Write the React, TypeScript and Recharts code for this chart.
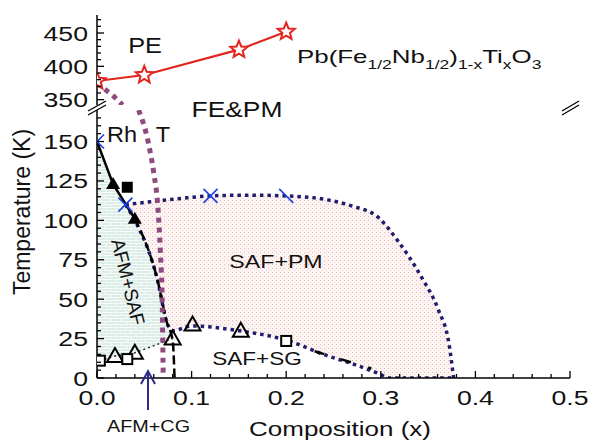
import React from 'react';
import { ComposedChart, Line, Area, Scatter, XAxis, YAxis } from 'recharts';

const FONT = '"Liberation Sans", Arial, Helvetica, sans-serif';

// upper panel (T >= 350 K): Curie line and start of the Rh/T boundary
const curieX = [0, 0.05, 0.15, 0.2];
const curieT = [378, 387, 425, 452];
const rhtUpX = [0, 0.005, 0.016, 0.027];
const rhtUpT = [375, 369, 357, 342];

// lower panel (0 - 170 K)
const rhtLowX = [0.044, 0.054, 0.06, 0.064, 0.067, 0.069, 0.07];
const rhtLowT = [170, 150, 130, 111, 80, 45, 0];

const afmX = [0, 0.017, 0.04];
const afmT = [150, 123, 101];
const afmDashX = [0.04, 0.064, 0.074, 0.08, 0.082];
const afmDashT = [101, 62, 35, 24, 0];

const safTopX = [0.03, 0.06, 0.09, 0.12, 0.16, 0.2, 0.244, 0.27, 0.297, 0.318, 0.343, 0.361, 0.372, 0.377];
const safTopT = [110, 112, 114, 115.5, 116, 115.5, 113, 109, 102, 87, 64, 43, 22, 0];
const safBotX = [0.03, 0.04, 0.064, 0.074, 0.08, 0.1, 0.15, 0.2, 0.244, 0.27, 0.297, 0.31, 0.377];
const safBotT = [110, 100, 62, 35, 30, 33, 30, 24, 14, 9, 3, 0, 0];

const pinkX = [0.03, 0.04, 0.064, 0.074, 0.08, 0.1, 0.12, 0.15, 0.2, 0.244, 0.27, 0.297, 0.31, 0.318, 0.343, 0.361, 0.372, 0.377];
const pinkHi = [110, 111, 112.5, 113, 113.5, 114.5, 115.5, 116, 115.5, 113, 109, 102, 95, 87, 64, 43, 22, 0];
const pinkLo = [110, 100, 62, 35, 30, 33, 33, 30, 24, 14, 9, 3, 0, 0, 0, 0, 0, 0];

const greenX = [0, 0.017, 0.03, 0.04, 0.064, 0.074, 0.08];
const greenHi = [150, 123, 112, 101, 62, 35, 25];
const greenLo = [11, 13, 14, 16, 21, 23, 25];

const cgX = [0.003, 0.019, 0.04, 0.08];
const cgT = [11, 14, 16, 25];
const sgDashX = [0.23, 0.29];
const sgDashT = [17, 6];

const openTriX = [0.019, 0.04, 0.08, 0.101, 0.152];
const openTriT = [14, 16, 25, 34, 30];
const openSqX = [0.003, 0.032, 0.2];
const openSqT = [11, 12, 23.5];
const fillTriX = [0.017, 0.04];
const fillTriT = [123, 101];
const fillSqX = [0.032];
const fillSqT = [121];
const crossX = [0, 0.03, 0.12];
const crossT = [150, 110, 115.5];
const slashX = [0.2];
const slashT = [115.5];

const xMajor = [0, 0.1, 0.2, 0.3, 0.4, 0.5];
const lowMajor = [0, 25, 50, 75, 100, 125, 150];
const upMajor = [350, 400, 450];

const pts = (xs: number[], ys: number[]) => xs.map((x, i) => ({ x, t: ys[i] }));
const rng = (xs: number[], lo: number[], hi: number[]) => xs.map((x, i) => ({ x, r: [lo[i], hi[i]] }));

const xTicks = Array.from({ length: 26 }, (_, i) => Math.round(i * 2) / 100);
const lowTicks = Array.from({ length: 34 }, (_, i) => i * 5);
const upTicks = Array.from({ length: 13 }, (_, i) => 350 + i * 10);

const RED = '#e1251f';
const NAVY = '#211d6b';
const MAUVE = '#8f4a7e';
const BLUE = '#1f3fe6';

const WText = ({ x, y, children, size = 20, sx = 1.3, anchor = 'middle', rotate = 0, fill = '#111' }: any) => (
  <text transform={`translate(${x},${y}) rotate(${rotate}) scale(${sx},1)`} fontSize={size} textAnchor={anchor} fill={fill} fontFamily={FONT}>
    {children}
  </text>
);

const isMajor = (v: number, majors: number[]) => majors.some((m) => Math.abs(m - v) < 1e-6);

const LeftTick = (majors: number[], labels: boolean) => (p: any) => {
  const v = p.payload.value;
  const major = isMajor(v, majors);
  return (
    <g>
      <line x1={p.x} x2={p.x + (major ? 7 : 4)} y1={p.y} y2={p.y} stroke="#000" strokeWidth={1.3} />
      {major && labels && <WText x={p.x - 9} y={p.y + 7.5} anchor="end" size={20.5}>{v}</WText>}
    </g>
  );
};

const RightTick = (majors: number[]) => (p: any) => {
  const major = isMajor(p.payload.value, majors);
  return <line x1={p.x} x2={p.x - (major ? 7 : 4)} y1={p.y} y2={p.y} stroke="#000" strokeWidth={1.3} />;
};

const BottomTick = (p: any) => {
  const v = p.payload.value;
  const major = isMajor(v, xMajor);
  return (
    <g>
      <line x1={p.x} x2={p.x} y1={p.y} y2={p.y - (major ? 7 : 4)} stroke="#000" strokeWidth={1.3} />
      {major && <WText x={p.x} y={p.y + 27} size={20.5}>{v.toFixed(1)}</WText>}
    </g>
  );
};

const TopTick = (p: any) => {
  const major = isMajor(p.payload.value, xMajor);
  return <line x1={p.x} x2={p.x} y1={p.y} y2={p.y + (major ? 7 : 4)} stroke="#000" strokeWidth={1.3} />;
};

const starPath = (cx: number, cy: number, R: number, r: number) => {
  let d = '';
  for (let i = 0; i < 10; i++) {
    const a = -Math.PI / 2 + (i * Math.PI) / 5;
    const rad = i % 2 === 0 ? R : r;
    d += (i === 0 ? 'M' : 'L') + (cx + rad * Math.cos(a)).toFixed(2) + ',' + (cy + rad * Math.sin(a)).toFixed(2);
  }
  return d + 'Z';
};

const StarDot = (p: any) => <path key={p.index} d={starPath(p.cx, p.cy, 9, 4)} fill="#fff" stroke={RED} strokeWidth={2} />;
const OpenTri = (p: any) => <path d={`M${p.cx},${p.cy - 8}L${p.cx + 8},${p.cy + 6}L${p.cx - 8},${p.cy + 6}Z`} fill="none" stroke="#000" strokeWidth={2} />;
const FillTri = (p: any) => <path d={`M${p.cx},${p.cy - 7}L${p.cx + 7},${p.cy + 5}L${p.cx - 7},${p.cy + 5}Z`} fill="#000" />;
const OpenSq = (p: any) => <rect x={p.cx - 5} y={p.cy - 5} width={10} height={10} fill="#fff" stroke="#000" strokeWidth={2} />;
const FillSq = (p: any) => <rect x={p.cx - 5.5} y={p.cy - 5.5} width={11} height={11} fill="#000" />;
const Cross = (p: any) => (
  <path d={`M${p.cx - 7},${p.cy - 7}L${p.cx + 7},${p.cy + 7}M${p.cx - 7},${p.cy + 7}L${p.cx + 7},${p.cy - 7}`} stroke={BLUE} strokeWidth={1.6} />
);
const Slash = (p: any) => <path d={`M${p.cx - 7},${p.cy - 7}L${p.cx + 7},${p.cy + 7}`} stroke={BLUE} strokeWidth={1.6} />;

const AXIS = { stroke: '#000', strokeWidth: 1.5 };

export default function App() {
  return (
    <div style={{ position: 'absolute', left: 0, top: 0, width: 589, height: 441, background: '#fff', fontFamily: FONT }}>
      <div style={{ position: 'absolute', left: 0, top: 0 }}>
        <ComposedChart width={589} height={125} margin={{ top: 15, right: 19, bottom: 20, left: 37 }}>
          <XAxis dataKey="x" type="number" domain={[0, 0.5]} hide allowDataOverflow />
          <XAxis xAxisId="top" orientation="top" dataKey="x" type="number" domain={[0, 0.5]} ticks={xTicks} interval={0}
            height={0} tickSize={0} tickMargin={0} tick={TopTick} axisLine={AXIS} />
          <YAxis type="number" domain={[342, 477]} ticks={upTicks} interval={0} width={60} tickSize={0} tickMargin={0}
            tick={LeftTick(upMajor, true)} axisLine={AXIS} allowDataOverflow />
          <YAxis yAxisId="r" orientation="right" type="number" domain={[342, 477]} ticks={upTicks} interval={0} width={0}
            tickSize={0} tickMargin={0} tick={RightTick(upMajor)} axisLine={AXIS} />
          <Line data={pts(rhtUpX, rhtUpT)} dataKey="t" type="monotone" stroke={MAUVE} strokeWidth={5} strokeDasharray="5 5"
            dot={false} activeDot={false} isAnimationActive={false} />
          <Line data={pts(curieX, curieT)} dataKey="t" type="linear" stroke={RED} strokeWidth={2.2}
            dot={StarDot} activeDot={false} isAnimationActive={false} />
        </ComposedChart>
      </div>
      <div style={{ position: 'absolute', left: 0, top: 0 }}>
        <ComposedChart width={589} height={441} margin={{ top: 110, right: 19, bottom: 0, left: 37 }}>
          <defs>
            <pattern id="pinkTex" width="4" height="4" patternUnits="userSpaceOnUse">
              <rect width="4" height="4" fill="#fdf5f3" />
              <rect x="0" y="0" width="1" height="1" fill="#efb5ad" />
              <rect x="2" y="2" width="1" height="1" fill="#f7d8d3" />
            </pattern>
            <pattern id="greenTex" width="10" height="6" patternUnits="userSpaceOnUse">
              <rect width="10" height="6" fill="#dcede8" />
              <path d="M0 0.5H10M0 3.5H10M1 0V3M6 3V6" stroke="#f6fbf9" strokeWidth="1" />
            </pattern>
          </defs>
          <XAxis dataKey="x" type="number" domain={[0, 0.5]} ticks={xTicks} interval={0} height={63} tickSize={0}
            tickMargin={0} tick={BottomTick} axisLine={AXIS} allowDataOverflow />
          <YAxis type="number" domain={[0, 170]} ticks={lowTicks} interval={0} width={60} tickSize={0} tickMargin={0}
            tick={LeftTick(lowMajor, true)} axisLine={AXIS} allowDataOverflow />
          <YAxis yAxisId="r" orientation="right" type="number" domain={[0, 170]} ticks={lowTicks} interval={0} width={0}
            tickSize={0} tickMargin={0} tick={RightTick(lowMajor)} axisLine={AXIS} />
          <Area data={rng(greenX, greenLo, greenHi)} dataKey="r" type="linear" stroke="none" fill="url(#greenTex)"
            fillOpacity={1} dot={false} activeDot={false} isAnimationActive={false} />
          <Area data={rng(pinkX, pinkLo, pinkHi)} dataKey="r" type="monotone" stroke="none" fill="url(#pinkTex)"
            fillOpacity={1} dot={false} activeDot={false} isAnimationActive={false} />
          <Line data={pts(cgX, cgT)} dataKey="t" type="linear" stroke="#222" strokeWidth={1.5} strokeDasharray="2 3"
            dot={false} activeDot={false} isAnimationActive={false} />
          <Line data={pts(safTopX, safTopT)} dataKey="t" type="monotone" stroke={NAVY} strokeWidth={3.5} strokeDasharray="3.5 4"
            dot={false} activeDot={false} isAnimationActive={false} />
          <Line data={pts(safBotX, safBotT)} dataKey="t" type="monotone" stroke={NAVY} strokeWidth={3.5} strokeDasharray="3.5 4"
            dot={false} activeDot={false} isAnimationActive={false} />
          <Line data={pts(afmX, afmT)} dataKey="t" type="linear" stroke="#000" strokeWidth={2.5}
            dot={false} activeDot={false} isAnimationActive={false} />
          <Line data={pts(afmDashX, afmDashT)} dataKey="t" type="monotone" stroke="#000" strokeWidth={2.5} strokeDasharray="9 4"
            dot={false} activeDot={false} isAnimationActive={false} />
          <Line data={pts(sgDashX, sgDashT)} dataKey="t" type="linear" stroke="#000" strokeWidth={2.5} strokeDasharray="10 18"
            dot={false} activeDot={false} isAnimationActive={false} />
          <Line data={pts(rhtLowX, rhtLowT)} dataKey="t" type="monotone" stroke={MAUVE} strokeWidth={5} strokeDasharray="5 5"
            dot={false} activeDot={false} isAnimationActive={false} />
          <Scatter data={pts(openTriX, openTriT)} dataKey="t" shape={OpenTri} isAnimationActive={false} />
          <Scatter data={pts(openSqX, openSqT)} dataKey="t" shape={OpenSq} isAnimationActive={false} />
          <Scatter data={pts(fillTriX, fillTriT)} dataKey="t" shape={FillTri} isAnimationActive={false} />
          <Scatter data={pts(fillSqX, fillSqT)} dataKey="t" shape={FillSq} isAnimationActive={false} />
          <Scatter data={pts(crossX, crossT)} dataKey="t" shape={Cross} isAnimationActive={false} />
          <Scatter data={pts(slashX, slashT)} dataKey="t" shape={Slash} isAnimationActive={false} />
        </ComposedChart>
      </div>
      <svg width={589} height={441} style={{ position: 'absolute', left: 0, top: 0, pointerEvents: 'none' }}>
        {/* axis breaks */}
        <path d="M88,111L106,101L106,105L88,115Z" fill="#fff" />
        <path d="M88,111L106,101M88,115L106,105" stroke="#000" strokeWidth={1.3} />
        <path d="M562,111L579,101L579,105L562,115Z" fill="#fff" />
        <path d="M562,111L579,101M562,115L579,105" stroke="#000" strokeWidth={1.3} />

        <text transform="translate(30,212) rotate(-90)" fontSize={23} textAnchor="middle" fontFamily={FONT} fill="#111">Temperature (K)</text>
        <WText x={340} y={436} size={20}>Composition (x)</WText>

        <WText x={145} y={53} size={22} sx={1.15}>PE</WText>
        <WText x={237} y={117} size={22} sx={1.2}>FE&amp;PM</WText>
        <WText x={122} y={142} size={22} sx={1.07}>Rh</WText>
        <WText x={163} y={142} size={22} sx={1.07}>T</WText>
        <WText x={276} y={268} size={19} sx={1.22}>SAF+PM</WText>
        <WText x={257} y={365} size={18.5} sx={1.22}>SAF+SG</WText>
        <WText x={148.5} y={432} size={16} sx={1.24}>AFM+CG</WText>
        <text transform="translate(128,282) rotate(76)" fontSize={19} textAnchor="middle" dominantBaseline="central" fontFamily={FONT} fill="#111">AFM+SAF</text>

        <text transform="translate(297,63) scale(1.4,1)" fontSize={18.5} fontFamily={FONT} fill="#111">
          Pb(Fe<tspan fontSize={12.5} dy={6}>1/2</tspan><tspan dy={-6}>Nb</tspan><tspan fontSize={12.5} dy={6}>1/2</tspan>
          <tspan dy={-6}>)</tspan><tspan fontSize={12.5} dy={6}>1-x</tspan><tspan dy={-6}>Ti</tspan>
          <tspan fontSize={12.5} dy={6}>x</tspan><tspan dy={-6}>O</tspan><tspan fontSize={12.5} dy={6}>3</tspan>
        </text>

        <path d="M148,410L148,372M141,384L148,371L155,384" stroke="#2d2a8a" strokeWidth={2} fill="none" />
      </svg>
    </div>
  );
}
